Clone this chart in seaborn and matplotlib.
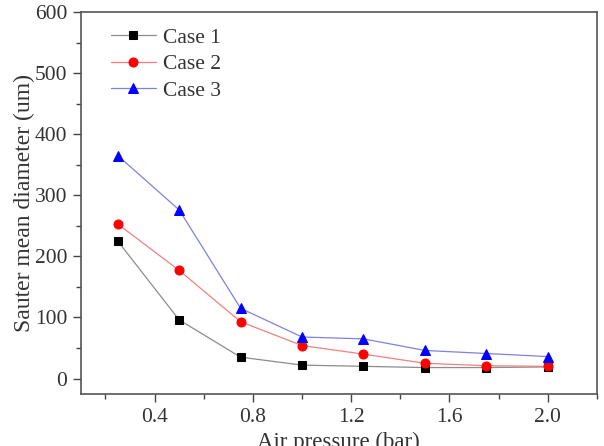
import numpy as np
import pandas as pd
import matplotlib
matplotlib.use("Agg")
import matplotlib.pyplot as plt
from matplotlib.ticker import MultipleLocator
import seaborn as sns

# data
pressure = [0.25, 0.5, 0.75, 1.0, 1.25, 1.5, 1.75, 2.0]
case1 = [225, 96, 35, 22, 20, 18, 18, 19]
case2 = [253, 177, 93, 54, 40, 25, 21, 20]
case3 = [365, 276, 115, 68, 65, 46, 41, 36]

sns.set_style("ticks")
plt.rcParams['font.family'] = ['Liberation Serif', 'DejaVu Serif']

fig = plt.figure(figsize=(6.04, 4.46), dpi=100)
ax = fig.add_axes([0.134, 0.117, 0.854, 0.856])

series = [
    ("Case 1", case1, "s", 6, "black", "#8c8c8c"),
    ("Case 2", case2, "o", 6.5, "red", "#f08080"),
    ("Case 3", case3, "^", 7, "blue", "#8080e0"),
]
for name, vals, mk, ms, mcol, lcol in series:
    sns.lineplot(x=pressure, y=vals, ax=ax, color=lcol, lw=0.9,
                 marker=mk, markersize=ms, markerfacecolor=mcol,
                 markeredgecolor=mcol, label=name)

ax.set_xlim(0.1, 2.2)
ax.set_ylim(-25, 600)
ax.xaxis.set_major_locator(MultipleLocator(0.4))
ax.xaxis.set_minor_locator(MultipleLocator(0.2))
ax.yaxis.set_major_locator(MultipleLocator(100))
ax.yaxis.set_minor_locator(MultipleLocator(50))
ax.set_xticks([0.4, 0.8, 1.2, 1.6, 2.0])
ax.set_xticklabels(["0.4", "0.8", "1.2", "1.6", "2.0"])

ax.tick_params(which='major', direction='out', length=6, width=1, colors='#444444',
               labelsize=15.5, labelcolor='#333333', pad=4)
ax.tick_params(which='minor', direction='out', length=3.5, width=1, colors='#444444')
for s in ax.spines.values():
    s.set_color('#555555')
    s.set_linewidth(1.2)

ax.set_xlabel("Air pressure (bar)", fontsize=16.5, color='#333333', labelpad=4)
ax.set_ylabel("Sauter mean diameter (um)", fontsize=17, color='#333333', labelpad=0)

leg = ax.legend(loc='upper left', frameon=False, fontsize=15.5,
                bbox_to_anchor=(0.02, 1.01), handlelength=2.1,
                handletextpad=0.35, labelspacing=0.3)
for t in leg.get_texts():
    t.set_color('#333333')

fig.savefig("out.png", dpi=100)
